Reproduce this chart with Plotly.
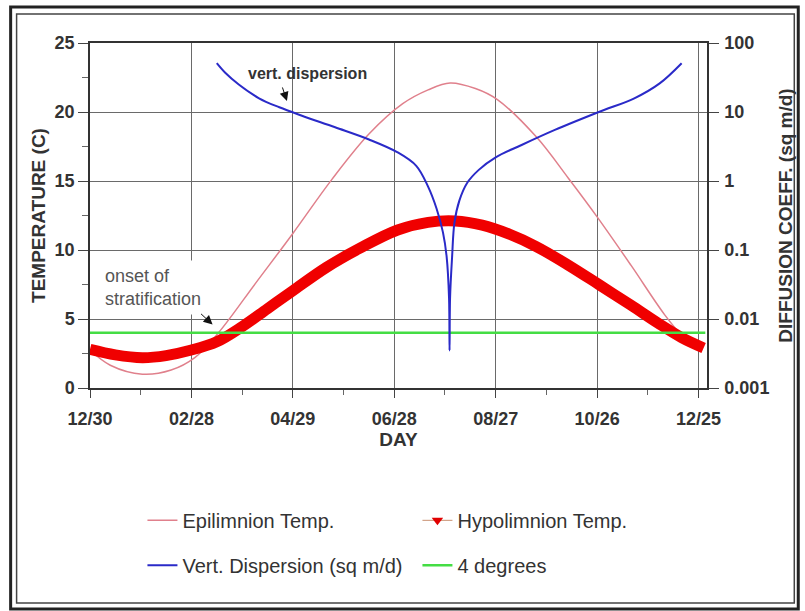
import plotly.graph_objects as go

# ---------------- data ----------------
tick_days = [0, 60, 120, 180, 240, 300, 360]
tick_labels = ["12/30", "02/28", "04/29", "06/28", "08/27", "10/26", "12/25"]

epi_day = [0, 12, 31, 48, 62, 76, 98, 120, 143, 165, 185, 200, 213, 228, 241, 264, 283, 300, 320, 340, 352]
epi_temp = [2.75, 1.65, 1.0, 1.3, 2.2, 4.0, 7.6, 11.2, 15.1, 18.4, 20.6, 21.6, 22.1, 21.7, 20.9, 18.2, 15.2,
            12.4, 8.9, 5.3, 3.5]

hypo_day = [0, 15, 31, 45, 60, 75, 90, 105, 120, 140, 160, 182, 200, 216, 232, 248, 264, 283, 301, 320,
            336, 350, 363]
hypo_temp = [2.8, 2.4, 2.2, 2.35, 2.75, 3.35, 4.45, 5.75, 7.05, 8.75, 10.15, 11.45, 12.0, 12.1, 11.8, 11.15,
             10.25, 8.9, 7.5, 6.0, 4.7, 3.65, 2.9]

disp_day = [75, 80, 88, 100, 112, 125, 145, 165, 182, 193, 200, 205, 208.8, 211, 212.4, 212.7, 213.0,
            214.2, 215.6, 218.5, 223, 230, 240, 255, 275, 301, 322, 337, 350]
disp_val = [51, 37, 25, 15.8, 11.7, 8.9, 6.0, 4.0, 2.6, 1.66, 0.83, 0.40, 0.18, 0.079, 0.02, 0.0035, 0.02,
            0.079, 0.25, 0.52, 0.93, 1.45, 2.2, 3.3, 5.5, 10, 15.8, 26, 51]

four_day = [0, 364]
four_temp = [4, 4]

# ---------------- figure ----------------
FONT = "Liberation Sans, Arial, sans-serif"
fig = go.Figure()

fig.add_trace(go.Scatter(x=epi_day, y=epi_temp, mode="lines", line=dict(color="#E0808C", width=1.5, shape="spline"),
                         name="Epilimnion Temp.", legend="legend"))
fig.add_trace(go.Scatter(x=hypo_day, y=hypo_temp, mode="lines", line=dict(color="#F00000", width=11, shape="spline"),
                         name="Hypolimnion Temp.", showlegend=False))
fig.add_trace(go.Scatter(x=[None], y=[None], mode="lines+markers", line=dict(color="#C89070", width=1),
                         marker=dict(symbol="triangle-down", color="#E00000", size=10),
                         name="Hypolimnion Temp.", legend="legend"))
fig.add_trace(go.Scatter(x=four_day, y=four_temp, mode="lines", line=dict(color="#44DD44", width=2.5),
                         name="4 degrees", legend="legend2", legendrank=2))
fig.add_trace(go.Scatter(x=disp_day, y=disp_val, mode="lines",
                         line=dict(color="#2A2AC8", width=2, shape="spline", smoothing=1),
                         name="Vert. Dispersion (sq m/d)", yaxis="y2", legend="legend2", legendrank=1))

tickfont = dict(family=FONT, size=18, color="#333333", weight="bold")
titlefont = dict(family=FONT, size=19, color="#333333", weight="bold")
grid = "#6a6a6a"
legfont = dict(family=FONT, size=20, color="#333333")

fig.update_layout(
    width=805, height=611,
    margin=dict(l=90, r=93, t=43, b=223),
    paper_bgcolor="white", plot_bgcolor="white",
    font=dict(family=FONT, color="#333333"),
    xaxis=dict(range=[0, 365], tickvals=tick_days, ticktext=tick_labels, tickfont=tickfont,
               ticks="outside", ticklen=8, tickcolor="#444", showgrid=True, gridcolor=grid, gridwidth=1,
               ticklabelstandoff=6,
               minor=dict(dtick=30, tick0=0, ticks="outside", ticklen=5, tickcolor="#666", showgrid=False),
               showline=True, linecolor="#333", linewidth=1.5, mirror=True, zeroline=False,
               title=dict(text="DAY", font=titlefont, standoff=0)),
    yaxis=dict(range=[0, 25], dtick=5, tickfont=tickfont, ticks="outside", ticklen=10, tickcolor="#444",
               showgrid=True, gridcolor=grid, gridwidth=1, zeroline=False,
               minor=dict(dtick=2.5, ticks="outside", ticklen=6, tickcolor="#666", showgrid=False),
               showline=True, linecolor="#333", linewidth=1.5,
               title=dict(text="TEMPERATURE (C)", font=titlefont, standoff=4)),
    yaxis2=dict(type="log", range=[-3, 2], overlaying="y", side="right",
                tickvals=[0.001, 0.01, 0.1, 1, 10, 100], ticktext=["0.001", "0.01", "0.1", "1", "10", "100"],
                tickfont=tickfont, ticks="outside", ticklen=10, tickcolor="#444", showgrid=False,
                ticklabelstandoff=2,
                showline=True, linecolor="#333", linewidth=1.5,
                title=dict(text="DIFFUSION COEFF. (sq m/d)", font=titlefont, standoff=10)),
    legend=dict(orientation="h", x=0.085, y=-0.327, xanchor="left", yanchor="top",
                entrywidth=230, entrywidthmode="pixels", font=legfont, bgcolor="rgba(0,0,0,0)"),
    legend2=dict(orientation="h", x=0.085, y=-0.457, xanchor="left", yanchor="top",
                 entrywidth=230, entrywidthmode="pixels", font=legfont, bgcolor="rgba(0,0,0,0)"),
    showlegend=True,
)

# annotations
fig.add_annotation(x=(309 - 90) / 622 * 365, y=(388 - 73) / 13.8, text="<b>vert. dispersion</b>", showarrow=False,
                   font=dict(family=FONT, size=16, color="#333"))
fig.add_annotation(x=116.5, y=20.8, ax=-5, ay=-15, text="", showarrow=True, arrowhead=2, arrowsize=1.8,
                   arrowwidth=1, arrowcolor="#111")
fig.add_annotation(x=5.2, y=(388 - 287) / 13.8, xanchor="left", yanchor="middle", align="left",
                   text="onset of<br>stratification", showarrow=False, bgcolor="white", borderpad=5,
                   font=dict(family=FONT, size=18, color="#555555"))
fig.add_annotation(x=72.5, y=4.6, ax=-13, ay=-12, text="", showarrow=True, arrowhead=2, arrowsize=1.8,
                   arrowwidth=1, arrowcolor="#111")

# outer double frame
def px(xp):
    return (xp - 90) / 622

def py(yp):
    return (388 - yp) / 345

fig.add_shape(type="rect", xref="paper", yref="paper", x0=px(10), x1=px(804), y0=py(609), y1=py(7),
              line=dict(color="#222", width=3), layer="above")
fig.add_shape(type="rect", xref="paper", yref="paper", x0=px(16), x1=px(800), y0=py(603), y1=py(14),
              line=dict(color="#444", width=1.5), layer="above")

fig.write_html("out.html")
